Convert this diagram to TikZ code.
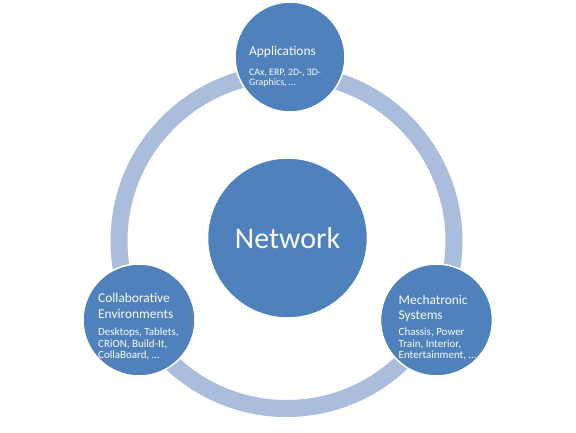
\documentclass[tikz,border=0pt]{standalone}
\usepackage{fontspec}
\setmainfont{Carlito}
\definecolor{circblue}{RGB}{79,129,189}
\definecolor{ringblue}{RGB}{170,189,221}
\definecolor{txtwhite}{RGB}{250,252,255}
\begin{document}
\begin{tikzpicture}[x=1pt,y=-1pt,
  sat/.style={circle,fill=circblue,draw=white,line width=1.5pt,inner sep=0pt,minimum size=#1},
  ttl/.style={anchor=north west,inner sep=0pt,align=left,text=txtwhite,font=\fontsize{13.4}{15.5}\selectfont},
  sub/.style={anchor=north west,inner sep=0pt,align=left,text=txtwhite,font=\fontsize{11}{11.8}\selectfont},
  subsm/.style={anchor=north west,inner sep=0pt,align=left,text=txtwhite,font=\fontsize{9.9}{10}\selectfont}]
\useasboundingbox[fill=white] (0,0) rectangle (576,432);
\coordinate (rc) at (286.5,241);
\draw[ringblue,line width=17pt] (rc) circle[radius=167.5];
\node[sat=160pt] (net) at (287.5,238) {};
\node[text=txtwhite,font=\fontsize{30}{36}\selectfont] (netlbl) at (net) {Network};
\node[sat=110pt] (app) at (290,57) {};
\node[sat=112pt] (col) at (139,320) {};
\node[sat=112pt] (mec) at (436.5,320) {};
\node[ttl] (appt) at (249,46) {Applications};
\node[subsm] (apps) at (249,68.5) {CAx, ERP, 2D-, 3D-\\Graphics, …};
\node[ttl] (colt) at (98,293) {Collaborative\\Environments};
\node[sub] (cols) at (98,327.5) {Desktops, Tablets,\\CRiON, Build-It,\\CollaBoard, …};
\node[ttl] (mect) at (398.5,294.5) {Mechatronic\\Systems};
\node[sub] (mecs) at (398.5,327.5) {Chassis, Power\\Train, Interior,\\Entertainment, …};
\end{tikzpicture}
\end{document}
